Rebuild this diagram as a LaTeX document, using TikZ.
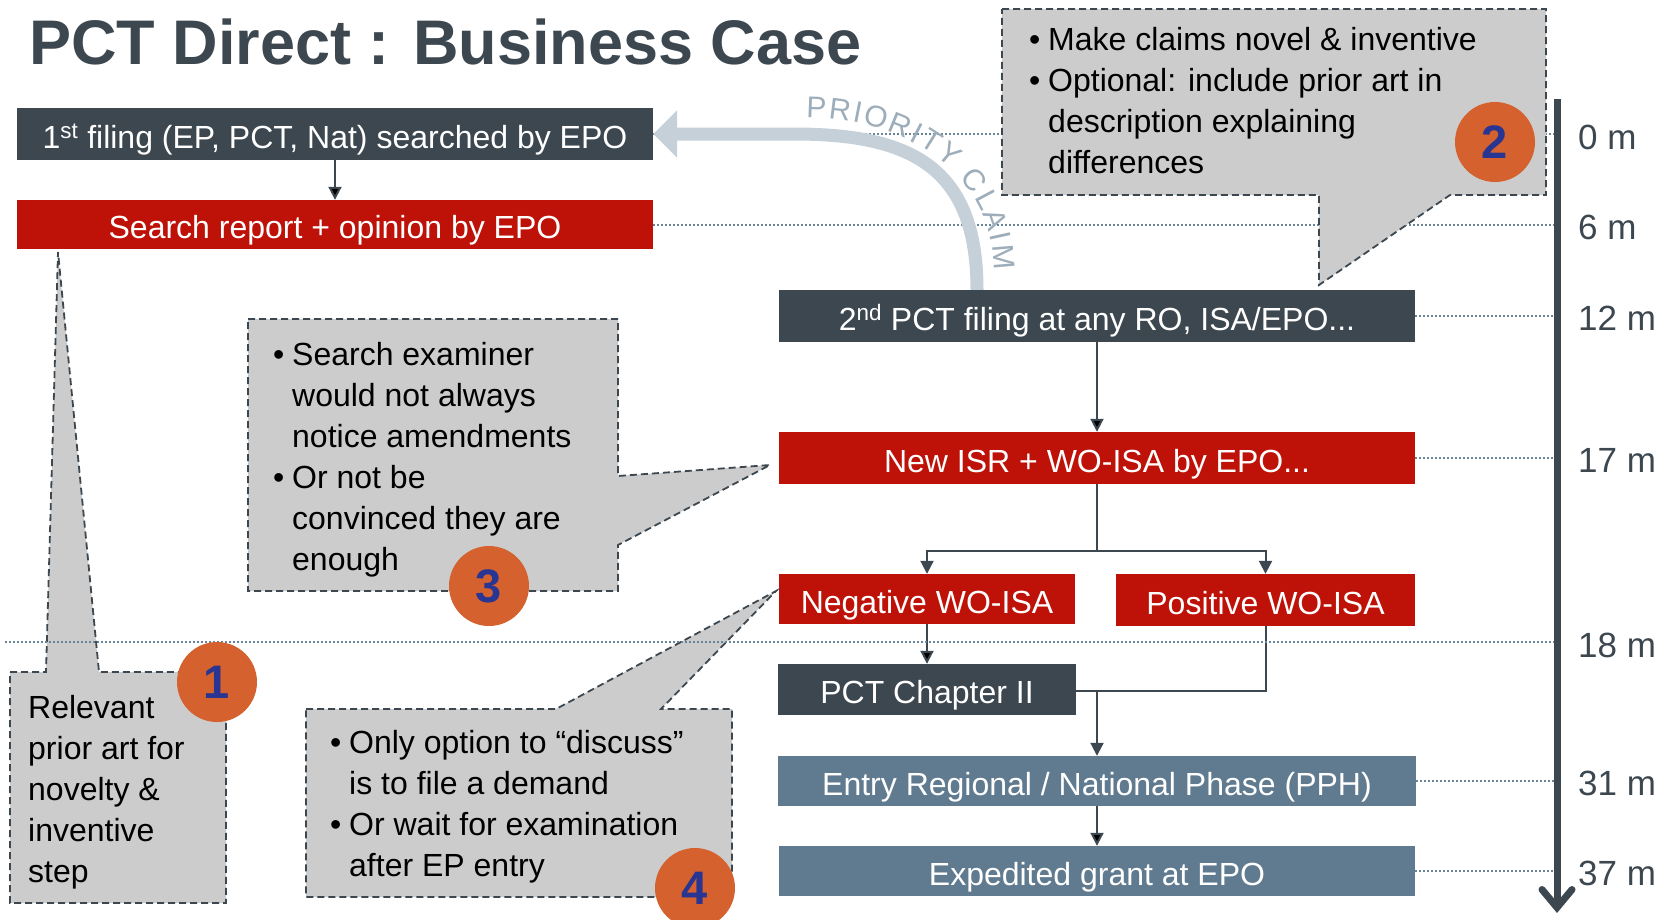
\documentclass[tikz,border=0pt]{standalone}
\usepackage{fontspec}
\setmainfont{Liberation Sans}
\usepackage{tikz}
\usetikzlibrary{arrows.meta,decorations.text}

\definecolor{slate}{HTML}{3C474F}
\definecolor{epored}{HTML}{BE1107}
\definecolor{steel}{HTML}{607B8F}
\definecolor{calgray}{HTML}{CCCCCC}
\definecolor{badgeorange}{HTML}{D4612E}
\definecolor{badgeblue}{HTML}{283592}
\definecolor{dotcol}{HTML}{6A8497}
\definecolor{prioarrow}{HTML}{C5D0D8}
\definecolor{priotext}{HTML}{9DADBA}

\tikzset{
	box/.style={rectangle, minimum height=52pt, inner sep=0pt, text height=34pt, text depth=6pt, text=white, font=\fontsize{32}{38}\selectfont},
	darkbox/.style={box, fill=slate},
	redbox/.style={box, fill=epored},
	bluebox/.style={box, fill=steel},
	flow/.style={-{Triangle[length=13pt,width=13pt]}, line width=2pt, draw=slate},
	link/.style={line width=2pt, draw=slate},
	guide/.style={line width=2pt, draw=dotcol, dash pattern=on 2pt off 2pt},
	callout/.style={fill=calgray, draw=slate, line width=1.8pt, dash pattern=on 7pt off 4pt},
	badge/.style={circle, fill=badgeorange, minimum size=80pt, inner sep=0pt, text=badgeblue, font=\fontsize{47}{47}\selectfont\bfseries},
	note/.style={anchor=base west, align=left, inner sep=0pt, font=\fontsize{32}{41}\selectfont},
	mlabel/.style={anchor=west, inner sep=0pt, text=slate, font=\fontsize{35}{35}\selectfont},
	axis/.style={line width=7pt, draw=slate, -{Straight Barb[length=18pt,width=30pt,line cap=round]}},
	prio/.style={line width=13pt, draw=prioarrow, -{Triangle[length=24pt,width=46pt]}}
}
\newcommand{\bul}{\llap{\textbullet\hspace{8pt}}}

\begin{document}
\begin{tikzpicture}[x=1pt, y=-1pt]
	\useasboundingbox (0,0) rectangle (1665,919);
	
	\node[anchor=base west, inner sep=0pt, text=slate, font=\fontsize{63}{63}\selectfont\bfseries] (title) at (29,64) {PCT Direct : Business Case};
	
	\node[darkbox, minimum width=636pt] (first) at (335,134) {1\textsuperscript{st} filing (EP, PCT, Nat) searched by EPO};
	\node[redbox, minimum width=636pt, minimum height=49pt] (search) at (335,224.5) {Search report + opinion by EPO};
	\node[darkbox, minimum width=636pt] (second) at (1097,316) {2\textsuperscript{nd} PCT filing at any RO, ISA/EPO...};
	\node[redbox, minimum width=636pt] (isr) at (1097,458) {New ISR + WO-ISA by EPO...};
	\node[redbox, minimum width=296pt, minimum height=50pt] (neg) at (927,599) {Negative WO-ISA};
	\node[redbox, minimum width=299pt] (pos) at (1265.5,600) {Positive WO-ISA};
	\node[darkbox, minimum width=298pt, minimum height=51pt] (chap) at (927,689.5) {PCT Chapter II};
	\node[bluebox, minimum width=638pt, minimum height=50pt] (entry) at (1097,781) {Entry Regional / National Phase (PPH)};
	\node[bluebox, minimum width=636pt, minimum height=50pt] (grant) at (1097,871) {Expedited grant at EPO};
	
	\coordinate (axisTop) at (1557,99);
	\coordinate (axisEnd) at (1557,913);
	\coordinate (split) at (1097,551);
	\coordinate (merge) at (1097,691);
	\coordinate (m18) at (5,642);
	
	\draw[guide] (first.east) -- (first.east -| axisTop);
	\draw[guide] (search.east) -- (search.east -| axisTop);
	\draw[guide] (second.east) -- (second.east -| axisTop);
	\draw[guide] (isr.east) -- (isr.east -| axisTop);
	\draw[guide] (entry.east) -- (entry.east -| axisTop);
	\draw[guide] (grant.east) -- (grant.east -| axisTop);
	
	\path[flow] (first) edge (search);
	\path[flow] (second) edge (isr);
	\draw[link] (isr) -- (split);
	\draw[flow] (split) -| (neg);
	\draw[flow] (split) -| (pos);
	\path[flow] (neg) edge (chap);
	\draw[link] (pos.south) |- (chap.east |- merge);
	\draw[flow] (merge) -- (entry.north);
	\path[flow] (entry) edge (grant);
	
	\draw[prio] ([xshift=-120pt]second.north) .. controls (977,168) and (912,134) .. (794,134) -- (first.east);
	\path[decorate, decoration={text along path, text align=fit to path,
		text={|\fontsize{30}{30}\selectfont\color{priotext}|PRIORITY CLAIM}}]
		(806,118) .. controls (912,118) and (994,178) .. (994,270);
	
	\draw[callout] (10,672) -- (46,672) -- (58,252) -- (99,672) -- (226,672) -- (226,903) -- (10,903) -- cycle;
	\draw[callout] (1002,9) -- (1546,9) -- (1546,195) -- (1450,195) -- (1319,285) -- (1319,195) -- (1002,195) -- cycle;
	\draw[callout] (248,319) -- (618,319) -- (618,476) -- (770,465) -- (618,545) -- (618,591) -- (248,591) -- cycle;
	\draw[callout] (306,709) -- (556,709) -- (776,591) -- (661,709) -- (732,709) -- (732,897) -- (306,897) -- cycle;
	
	\draw[guide] (m18) -- (m18 -| axisTop);
	
	\node[note] (n1) at (28,882) {Relevant\\prior art for\\novelty \&\\inventive\\step};
	\node[note] (n2) at (1048,173) {\bul Make claims novel \& inventive\\\bul Optional: include prior art in\\description explaining\\differences};
	\node[note] (n3) at (292,570) {\bul Search examiner\\would not always\\notice amendments\\\bul Or not be\\convinced they are\\enough};
	\node[note] (n4) at (349,876) {\bul Only option to “discuss”\\is to file a demand\\\bul Or wait for examination\\after EP entry};
	
	\node[badge] (b1) at (217,682) {1};
	\node[badge] (b2) at (1495,142) {2};
	\node[badge] (b3) at (489,586) {3};
	\node[badge] (b4) at (695,888) {4};
	
	\draw[axis] (axisTop) -- (axisEnd);
	
	\node[mlabel] (l0) at (1578,137) {0 m};
	\node[mlabel] (l6) at (1578,227) {6 m};
	\node[mlabel] (l12) at (1578,318) {12 m};
	\node[mlabel] (l17) at (1578,460) {17 m};
	\node[mlabel] (l18) at (1578,645) {18 m};
	\node[mlabel] (l31) at (1578,783) {31 m};
	\node[mlabel] (l37) at (1578,873) {37 m};
	
\end{tikzpicture}
\end{document}
